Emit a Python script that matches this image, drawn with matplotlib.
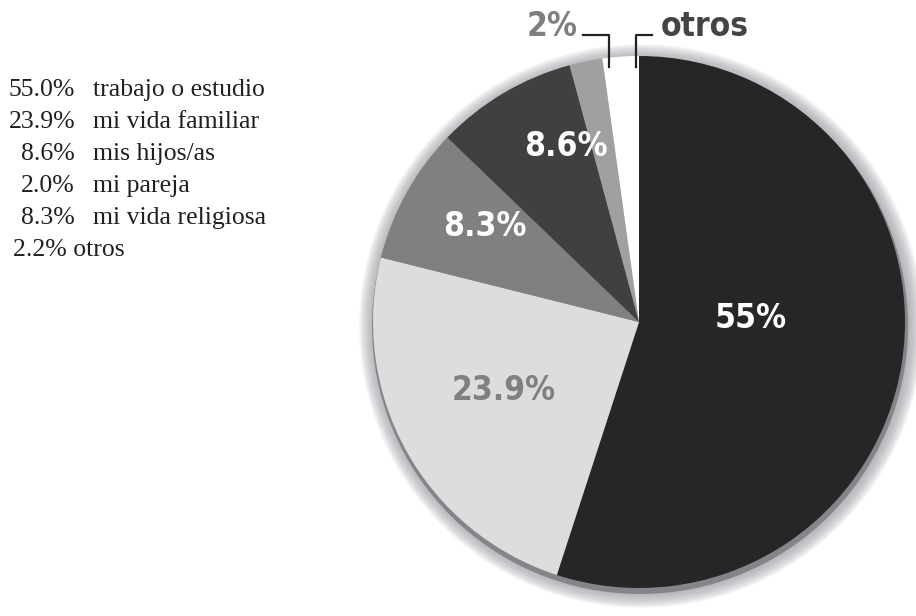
import matplotlib.pyplot as plt
from matplotlib.patches import Circle

# datos del grafico
valores = [55.0, 23.9, 8.3, 8.6, 2.0, 2.2]
colores = ['#262626', '#dddddd', '#808080', '#404040', '#a0a0a0', '#ffffff']
etiquetas = ['55%', '23.9%', '8.3%', '8.6%', '', '']
color_etiq = ['white', '#808080', 'white', 'white', 'white', 'white']

leyenda_pct = ['55.0%', '23.9%', '8.6%', '2.0%', '8.3%']
leyenda_txt = ['trabajo o estudio', 'mi vida familiar', 'mis hijos/as', 'mi pareja', 'mi vida religiosa']
ultima_linea = '2.2% otros'

W, H = 916, 616
fig = plt.figure(figsize=(W / 100, H / 100), dpi=100)
ax = fig.add_axes([0, 0, 1, 1])
ax.set_xlim(0, W)
ax.set_ylim(0, H)
ax.set_aspect('equal')
ax.axis('off')

cx, cy, r = 639, H - 322, 266

# sombra difusa alrededor del pastel
for k in range(16, 0, -1):
    ax.add_patch(Circle((cx + 2, cy - 4), r + k, color='#9a9aa0', alpha=0.07, lw=0, zorder=1))
ax.add_patch(Circle((cx + 1, cy - 4), r + 2, color='#84848a', lw=0, zorder=2))

wedges, texts = ax.pie(valores, colors=colores, startangle=90, counterclock=False,
                       center=(cx, cy), radius=r, labels=None,
                       wedgeprops=dict(linewidth=0))
for w in wedges:
    w.set_zorder(3)
ax.set_xlim(0, W)
ax.set_ylim(0, H)

fuente = dict(family='DejaVu Sans', fontstretch='condensed', fontweight='bold', fontsize=24)
pos_etiq = [(751, 318), (504, 390), (485, 226), (566, 146)]
for (x, y), t, c in zip(pos_etiq, etiquetas, color_etiq):
    ax.text(x, H - y, t, color=c, ha='center', va='center', zorder=5, **fuente)

# etiquetas exteriores con lineas guia
ax.text(578, H - 27, '2%', color='#7f7f7f', ha='right', va='center', zorder=5, **fuente)
ax.plot([583, 609, 609], [H - 35, H - 35, H - 67], color='#222222', lw=1.6, zorder=5)
ax.text(661, H - 27, 'otros', color='#444444', ha='left', va='center', zorder=5, **fuente)
ax.plot([636, 636, 652], [H - 67, H - 35, H - 35], color='#222222', lw=1.6, zorder=5)

# leyenda en texto
serif = ['Liberation Serif', 'DejaVu Serif']
for i, (p, t) in enumerate(zip(leyenda_pct, leyenda_txt)):
    y = H - (90 + i * 32)
    ax.text(75, y, p, ha='right', va='center', fontsize=18.5, family=serif, color='#231f20')
    ax.text(93, y, t, ha='left', va='center', fontsize=18.5, family=serif, color='#231f20')
ax.text(13, H - (90 + 5 * 32), ultima_linea, ha='left', va='center', fontsize=18.5,
        family=serif, color='#231f20')

fig.savefig('out.png', dpi=100)
